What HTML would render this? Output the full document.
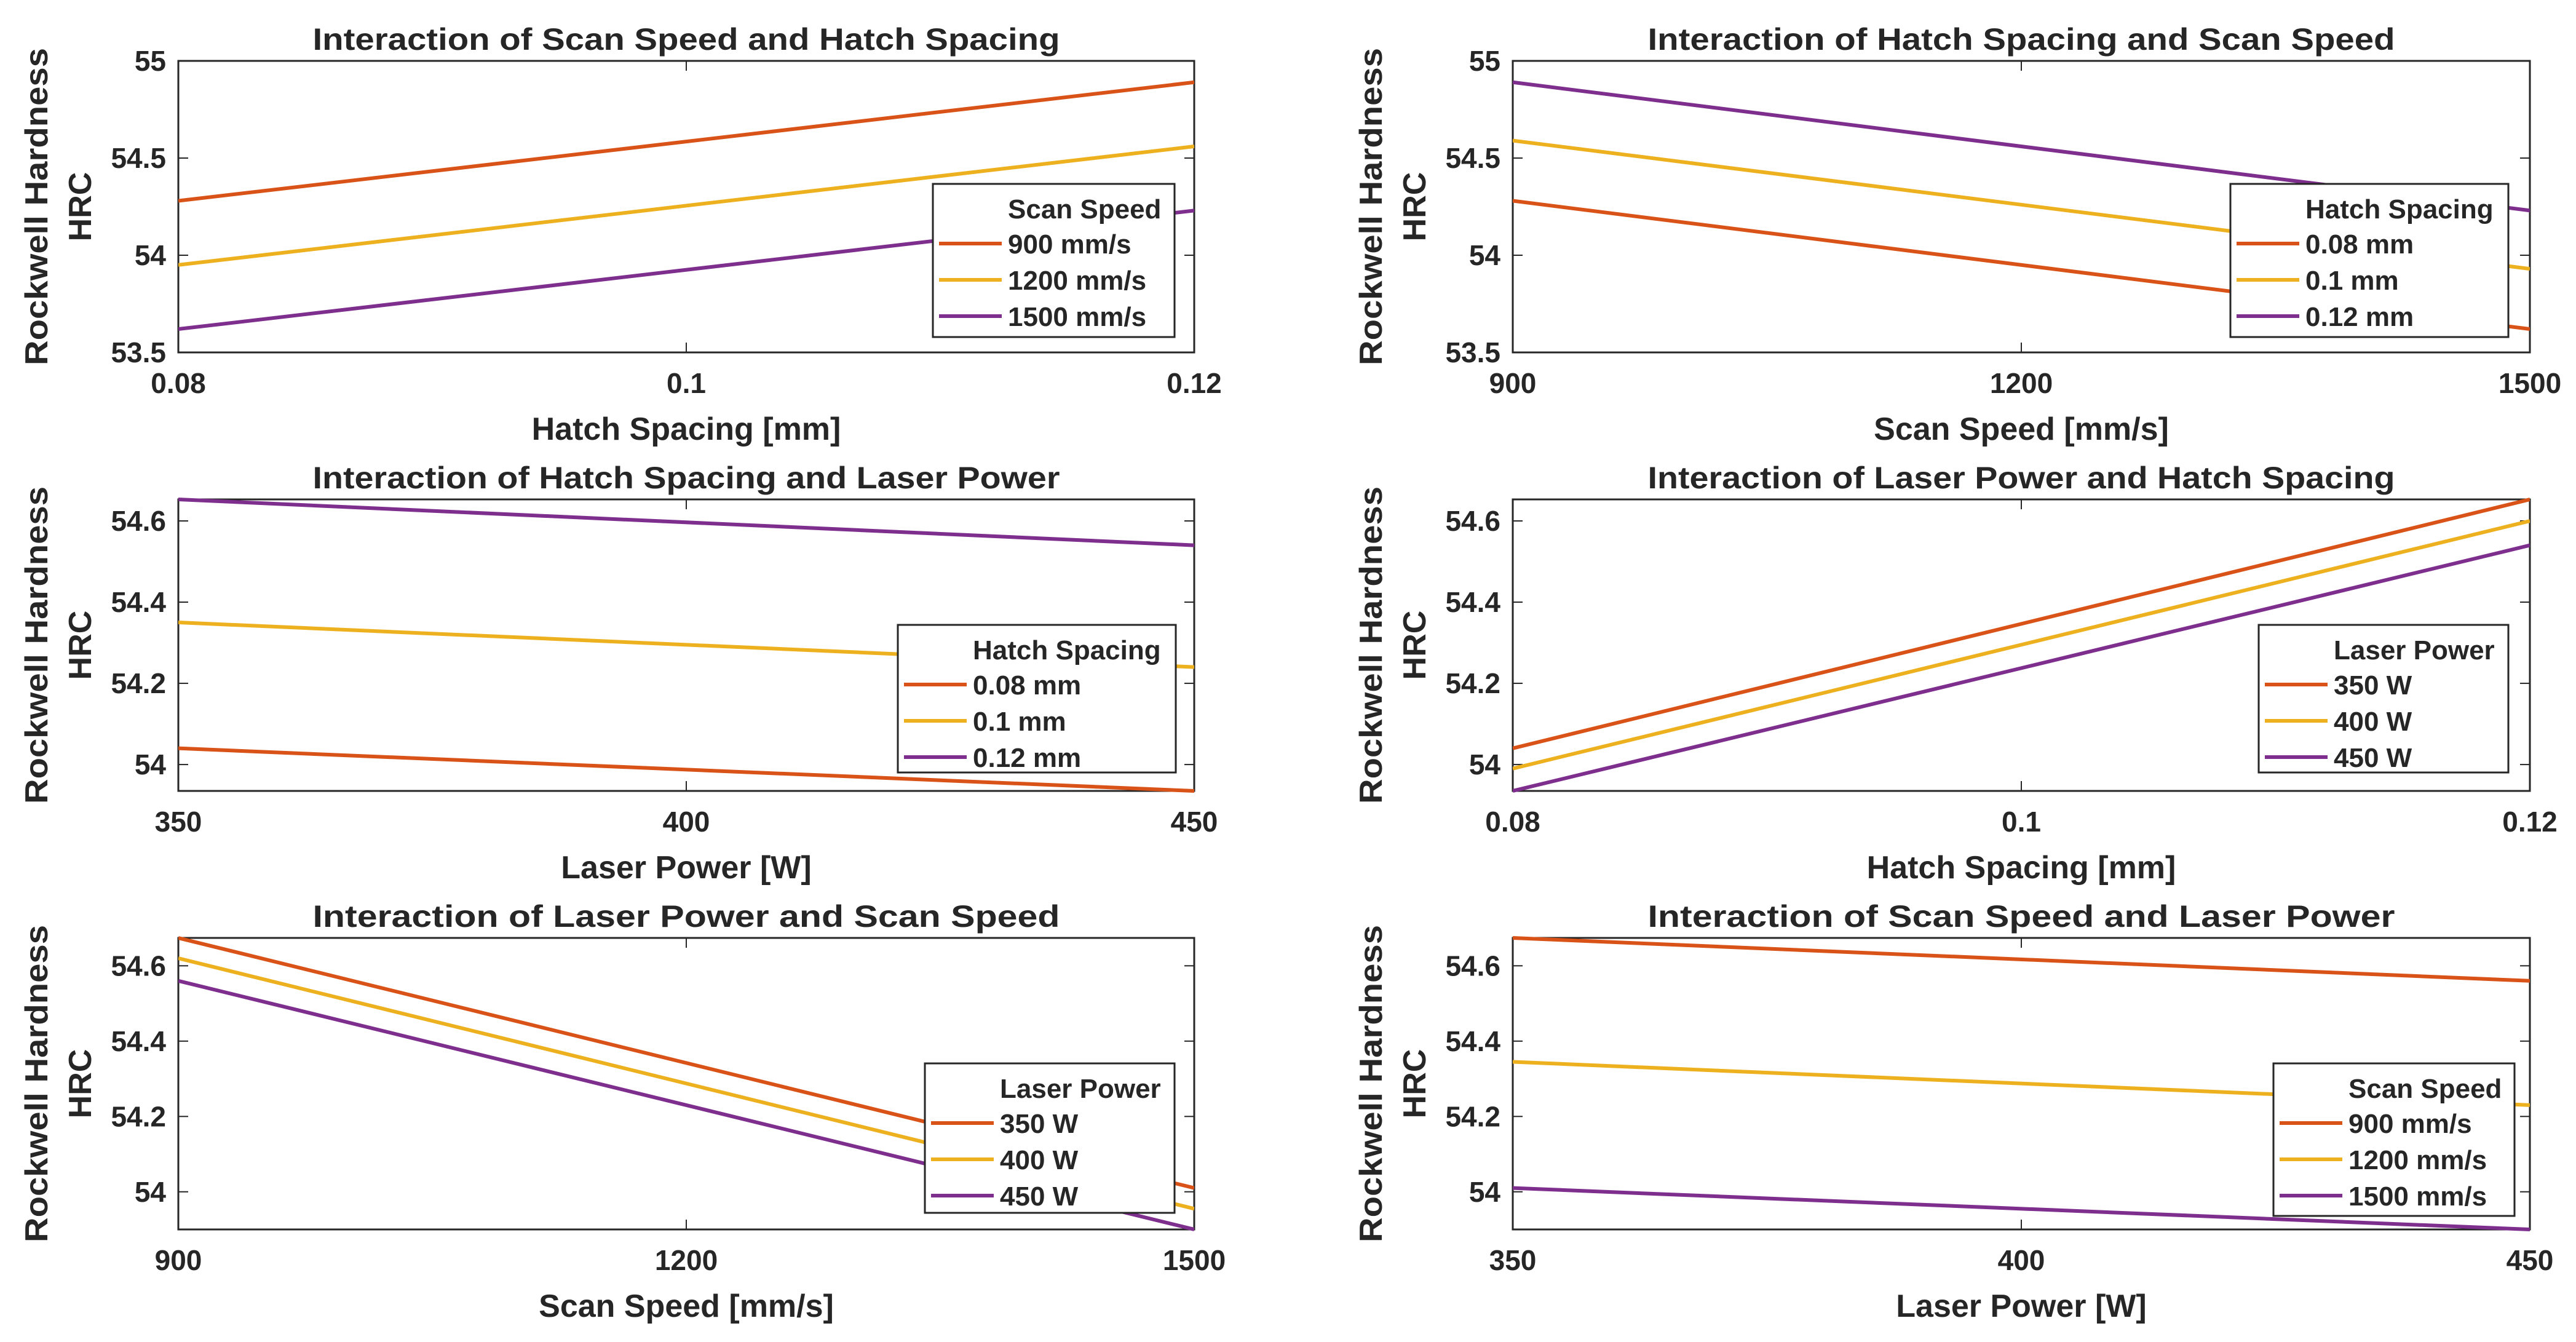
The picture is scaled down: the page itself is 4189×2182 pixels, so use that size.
<!DOCTYPE html>
<html><head><meta charset="utf-8"><style>
html,body{margin:0;padding:0;background:#fff}
svg{display:block}
text{font-family:"Liberation Sans",Arial,sans-serif;font-weight:bold;fill:#262626}
</style></head>
<body>
<svg id="fig" width="4189" height="2182" viewBox="0 0 4189 2182" xmlns="http://www.w3.org/2000/svg"></svg>
<script>
// ---- data ----
const p1Title = "Interaction of Scan Speed and Hatch Spacing";
const p1XLabel = "Hatch Spacing [mm]";
const p1XTicks = [0.08, 0.1, 0.12];
const p1YTicks = [53.5, 54, 54.5, 55];
const p1Legend = "Scan Speed";
const p1Series = ["900 mm/s", "1200 mm/s", "1500 mm/s"];
const p1Start = [54.28, 53.95, 53.62];
const p1End = [54.89, 54.56, 54.23];

const p2Title = "Interaction of Hatch Spacing and Scan Speed";
const p2XLabel = "Scan Speed [mm/s]";
const p2XTicks = [900, 1200, 1500];
const p2YTicks = [53.5, 54, 54.5, 55];
const p2Legend = "Hatch Spacing";
const p2Series = ["0.08 mm", "0.1 mm", "0.12 mm"];
const p2Start = [54.28, 54.59, 54.89];
const p2End = [53.62, 53.93, 54.23];

const p3Title = "Interaction of Hatch Spacing and Laser Power";
const p3XLabel = "Laser Power [W]";
const p3XTicks = [350, 400, 450];
const p3YTicks = [54, 54.2, 54.4, 54.6];
const p3YRange = [53.935, 54.653];
const p3Legend = "Hatch Spacing";
const p3Series = ["0.08 mm", "0.1 mm", "0.12 mm"];
const p3Start = [54.04, 54.35, 54.653];
const p3End = [53.935, 54.24, 54.54];

const p4Title = "Interaction of Laser Power and Hatch Spacing";
const p4XLabel = "Hatch Spacing [mm]";
const p4XTicks = [0.08, 0.1, 0.12];
const p4YTicks = [54, 54.2, 54.4, 54.6];
const p4YRange = [53.935, 54.653];
const p4Legend = "Laser Power";
const p4Series = ["350 W", "400 W", "450 W"];
const p4Start = [54.04, 53.99, 53.935];
const p4End = [54.653, 54.6, 54.54];

const p5Title = "Interaction of Laser Power and Scan Speed";
const p5XLabel = "Scan Speed [mm/s]";
const p5XTicks = [900, 1200, 1500];
const p5YTicks = [54, 54.2, 54.4, 54.6];
const p5YRange = [53.9, 54.674];
const p5Legend = "Laser Power";
const p5Series = ["350 W", "400 W", "450 W"];
const p5Start = [54.674, 54.62, 54.56];
const p5End = [54.01, 53.955, 53.9];

const p6Title = "Interaction of Scan Speed and Laser Power";
const p6XLabel = "Laser Power [W]";
const p6XTicks = [350, 400, 450];
const p6YTicks = [54, 54.2, 54.4, 54.6];
const p6YRange = [53.9, 54.674];
const p6Legend = "Scan Speed";
const p6Series = ["900 mm/s", "1200 mm/s", "1500 mm/s"];
const p6Start = [54.674, 54.345, 54.01];
const p6End = [54.56, 54.23, 53.9];

const colors = ["#D95319", "#EDB120", "#7E2F8E"];
const NS = "http://www.w3.org/2000/svg";
const fig = document.getElementById("fig");

function mk(tag, attrs, parent, txt) {
  const e = document.createElementNS(NS, tag);
  for (const k in attrs) e.setAttribute(k, attrs[k]);
  if (txt !== undefined) e.textContent = txt;
  parent.appendChild(e);
  return e;
}

function panel(id, L, T, R, B, title, xlab, xt, yt, yr, legTitle, names, st, en, legBox) {
  const g = mk("g", {}, fig);
  
  
  const x0 = xt[0], x1 = xt[xt.length - 1];
  const sx = v => L + (v - x0) / (x1 - x0) * (R - L);
  const sy = v => B - (v - yr[0]) / (yr[1] - yr[0]) * (B - T);
  const box = mk("rect", {x: L, y: T, width: R - L, height: B - T, fill: "#fff", stroke: "#262626", "stroke-width": 3}, g);
  
  
  xt.forEach(v => {
    const x = sx(v);
    mk("line", {x1: x, y1: B, x2: x, y2: B - 16, stroke: "#262626", "stroke-width": 2}, g);
    mk("line", {x1: x, y1: T, x2: x, y2: T + 16, stroke: "#262626", "stroke-width": 2}, g);
    const t = mk("text", {x: x, y: B + 66, "text-anchor": "middle", "font-size": 46}, g, String(v));
    
    
  });
  yt.forEach(v => {
    const y = sy(v);
    mk("line", {x1: L, y1: y, x2: L + 16, y2: y, stroke: "#262626", "stroke-width": 2}, g);
    mk("line", {x1: R, y1: y, x2: R - 16, y2: y, stroke: "#262626", "stroke-width": 2}, g);
    const t = mk("text", {x: L - 20, y: y + 16, "text-anchor": "end", "font-size": 46}, g, String(v));
    
    
  });
  const clipId = id + "-clip";
  const cp = mk("clipPath", {id: clipId}, g);
  mk("rect", {x: L, y: T - 3, width: R - L, height: B - T + 6}, cp);
  names.forEach((n, i) => {
    const ln = mk("line", {x1: sx(x0), y1: sy(st[i]), x2: sx(x1), y2: sy(en[i]), stroke: colors[i], "stroke-width": 6, "clip-path": "url(#" + clipId + ")"}, g);
    
    
  });
  const cx = (L + R) / 2;
  const tt = mk("text", {x: cx, y: T - 18, "text-anchor": "middle", "font-size": 50, fill: "#000", textLength: 1215, lengthAdjust: "spacingAndGlyphs"}, g, title);
  
  
  const xl = mk("text", {x: cx, y: B + 142, "text-anchor": "middle", "font-size": 52}, g, xlab);
  
  
  const cy = (T + B) / 2;
  const yl1 = mk("text", {x: 0, y: 0, "text-anchor": "middle", "font-size": 52, textLength: 516, lengthAdjust: "spacingAndGlyphs", transform: `translate(${L - 213},${cy}) rotate(-90)`}, g, "Rockwell Hardness");
  
  
  const yl2 = mk("text", {x: 0, y: 0, "text-anchor": "middle", "font-size": 52, transform: `translate(${L - 142},${cy}) rotate(-90)`}, g, "HRC");
  
  
  const [lx, ly, lw, lh] = legBox;
  const lg = mk("g", {}, g);
  
  
  mk("rect", {x: lx, y: ly, width: lw, height: lh, fill: "#fff", stroke: "#262626", "stroke-width": 3}, lg);
  const lt = mk("text", {x: lx + 122, y: ly + 56, "font-size": 44, fill: "#000"}, lg, legTitle);
  
  
  names.forEach((n, i) => {
    const yy = ly + 97 + i * 59;
    const ent = mk("g", {}, lg);
    
    
    mk("line", {x1: lx + 10, y1: yy, x2: lx + 112, y2: yy, stroke: colors[i], "stroke-width": 6}, ent);
    mk("text", {x: lx + 122, y: yy + 16, "font-size": 44, fill: "#000"}, ent, n);
  });
}

const LL = 290, LR = 1942, RL = 2460, RR = 4114;
const r1 = [99, 573], r2 = [812, 1286], r3 = [1525, 1999];
panel("panel-scan-hatch", LL, r1[0], LR, r1[1], p1Title, p1XLabel, p1XTicks, p1YTicks, [53.5, 55], p1Legend, p1Series, p1Start, p1End, [1517, 299, 393, 249]);
panel("panel-hatch-scan", RL, r1[0], RR, r1[1], p2Title, p2XLabel, p2XTicks, p2YTicks, [53.5, 55], p2Legend, p2Series, p2Start, p2End, [3627, 299, 452, 249]);
panel("panel-hatch-laser", LL, r2[0], LR, r2[1], p3Title, p3XLabel, p3XTicks, p3YTicks, p3YRange, p3Legend, p3Series, p3Start, p3End, [1460, 1016, 452, 240]);
panel("panel-laser-hatch", RL, r2[0], RR, r2[1], p4Title, p4XLabel, p4XTicks, p4YTicks, p4YRange, p4Legend, p4Series, p4Start, p4End, [3673, 1016, 406, 240]);
panel("panel-laser-scan", LL, r3[0], LR, r3[1], p5Title, p5XLabel, p5XTicks, p5YTicks, p5YRange, p5Legend, p5Series, p5Start, p5End, [1504, 1729, 406, 243]);
panel("panel-scan-laser", RL, r3[0], RR, r3[1], p6Title, p6XLabel, p6XTicks, p6YTicks, p6YRange, p6Legend, p6Series, p6Start, p6End, [3697, 1729, 392, 248]);
</script>
</body></html>
